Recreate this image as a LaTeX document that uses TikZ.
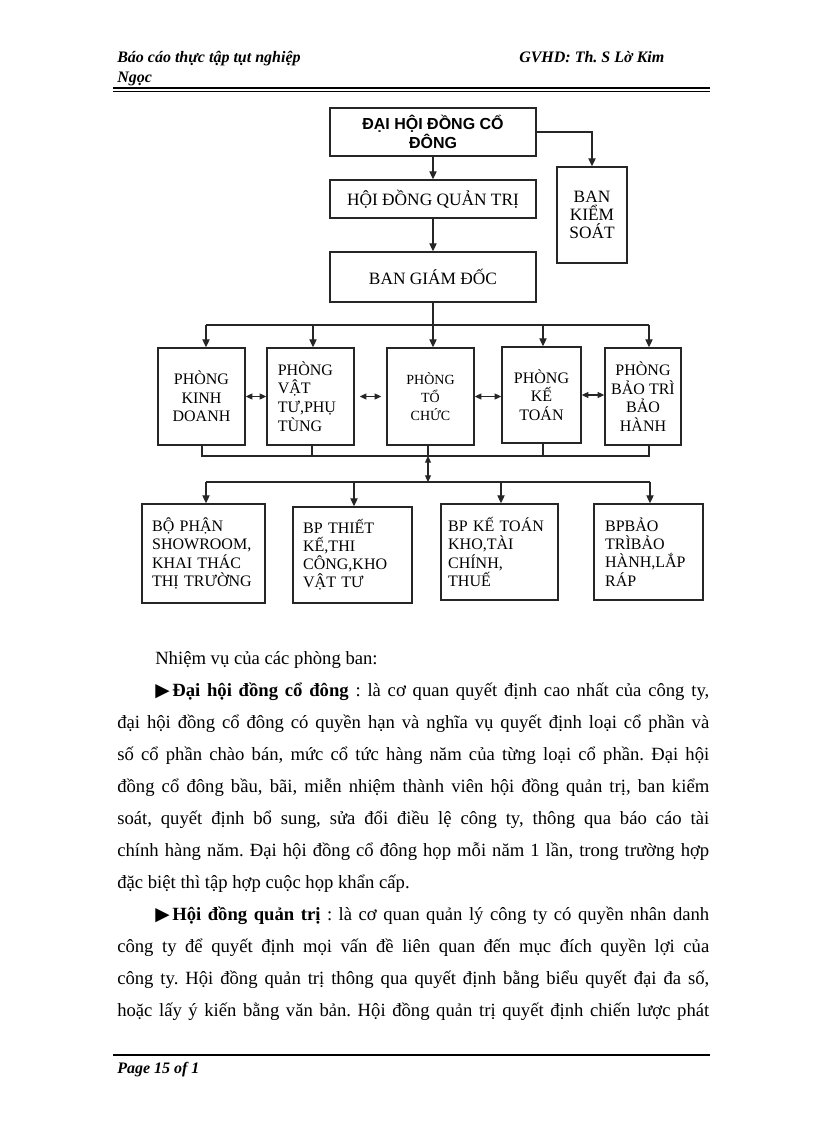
\documentclass[tikz,border=0pt]{standalone}
\usepackage{fontspec}
\setmainfont{Liberation Serif}
\newfontfamily\arialf{Liberation Sans}
\newfontfamily\symf{DejaVu Sans}
\usetikzlibrary{arrows.meta}
\frenchspacing
\newcommand\fullline[1]{\makebox[444pt][s]{#1}}
\newcommand\indline[1]{\makebox[415.5pt][s]{#1}}
\newcommand\tri{\raisebox{-0.3pt}{\symf\fontsize{14}{14}\selectfont ▶}\hspace{2pt}}
\begin{document}
\begin{tikzpicture}[x=0.75pt,y=-0.75pt,
  box/.style={draw=black!85, line width=1.1pt, inner sep=0pt, align=center},
  bx/.style 2 args={box, minimum width=#1*0.75pt, minimum height=#2*0.75pt},
  conn/.style={line width=0.8pt, black!85},
  arr/.style={conn, -{Triangle[length=6pt,width=5.5pt]}},
  darr/.style={conn, {Triangle[length=5pt,width=4.5pt]}-{Triangle[length=5pt,width=4.5pt]}},
  mid/.style={font=\fontsize{12}{14}\selectfont},
  low/.style={font=\fontsize{12}{13.6}\selectfont, align=left},
  body/.style={anchor=base west, inner sep=0pt, font=\fontsize{14}{16}\selectfont},
  hdr/.style={anchor=base west, inner sep=0pt, font=\fontsize{12}{14}\selectfont\bfseries\itshape},
]
\useasboundingbox (0,0) rectangle (816,1123);
\fill[white] (0,0) rectangle (816,1123);

% header
\node[hdr] (h1) at (117,63) {Báo cáo thực tập tụt nghiệp};
\node[hdr] (h2) at (117,83) {Ngọc};
\node[hdr] (h3) at (519,63) {GVHD: Th. S Lờ Kim};
\draw[line width=1.5pt] (113,88) -- (710,88);
\draw[line width=0.6pt] (113,91.5) -- (710,91.5);

% top boxes
\node[bx={206}{48}, font=\arialf\bfseries\fontsize{12}{14.3}\selectfont] (dhcd) at (433,132) {ĐẠI HỘI ĐỒNG CỔ\\ĐÔNG};
\node[bx={206}{38}, font=\fontsize{13}{15}\selectfont] (hdqt) at (433,199) {HỘI ĐỒNG QUẢN TRỊ};
\node[bx={206}{50}, font=\fontsize{13}{15}\selectfont] (bgd) at (433,277) {BAN GIÁM ĐỐC};
\node[bx={70}{96}, font=\fontsize{13}{13.5}\selectfont] (bks) at (592,215) {BAN\\KIỂM\\SOÁT};

\draw[arr] (dhcd) -- (hdqt);
\draw[arr] (hdqt) -- (bgd);
\draw[arr] (dhcd.east) -| (bks.north);

% middle row
\node[bx={87}{97}, mid] (pkd) at (201.5,396.5) {PHÒNG\\KINH\\DOANH};
\node[bx={87}{97}, mid, text width=49pt, align=left] (pvt) at (310.5,396.5) {PHÒNG\\VẬT\\TƯ,PHỤ\\TÙNG};
\node[bx={87}{97}, font=\fontsize{10.5}{13.5}\selectfont] (ptc) at (430.5,396.5) {PHÒNG\\TỔ\\CHỨC};
\node[bx={79}{96}, mid] (pkt) at (541.5,395) {PHÒNG\\KẾ\\TOÁN};
\node[bx={76}{97}, mid] (pbt) at (643,396.5) {PHÒNG\\BẢO TRÌ\\BẢO\\HÀNH};

\coordinate (ta) at (206,325);
\coordinate (tb) at (313,325);
\coordinate (td) at (543,325);
\coordinate (te) at (649,325);
\draw[conn] (ta) -- (te);
\draw[arr] (ta) -- (ta |- pkd.north);
\draw[arr] (tb) -- (tb |- pvt.north);
\draw[arr] (td) -- (td |- pkt.north);
\draw[arr] (te) -- (te |- pbt.north);
\draw[arr] (bgd.south) -- (bgd.south |- ptc.north);

\draw[darr] (pkd.east) -- (pvt.west);
\draw[darr] ([xshift=3.75pt]pvt.east) -- ([xshift=-3.75pt]ptc.west);
\draw[darr] (ptc.east) -- (ptc.east -| pkt.west);
\draw[darr] (pkt.east) -- (pkt.east -| pbt.west);

\coordinate (ba) at (202,456);
\coordinate (bb) at (312,456);
\coordinate (bc) at (428,456);
\coordinate (bd) at (543,456);
\coordinate (be) at (649,456);
\draw[conn] (ba |- pkd.south) -- (ba) -- (be) -- (be |- pbt.south);
\draw[conn] (bb |- pvt.south) -- (bb);
\draw[conn] (bc |- ptc.south) -- (bc);
\draw[conn] (bd |- pkt.south) -- (bd);

% bottom row
\node[bx={123}{99}, low, text width=77pt] (bp1) at (203.5,553.5) {BỘ PHẬN\\SHOWROOM,\\KHAI THÁC\\THỊ TRƯỜNG};
\node[bx={119}{96}, low, text width=74pt] (bp2) at (352.5,555) {BP THIẾT\\KẾ,THI\\CÔNG,KHO\\VẬT TƯ};
\node[bx={117}{96}, low, text width=77pt] (bp3) at (499.5,552) {BP KẾ TOÁN\\KHO,TÀI\\CHÍNH,\\THUẾ};
\node[bx={109}{96}, low, text width=65pt] (bp4) at (648.5,552) {BPBẢO\\TRÌBẢO\\HÀNH,LẮP\\RÁP};

\coordinate (ca) at (206,482);
\coordinate (cb) at (354,482);
\coordinate (cc) at (428,482);
\coordinate (cd) at (501,482);
\coordinate (ce) at (650,482);
\draw[darr] (bc) -- (cc);
\draw[conn] (ca) -- (ce);
\draw[arr] (ca) -- (ca |- bp1.north);
\draw[arr] (cb) -- (cb |- bp2.north);
\draw[arr] (cd) -- (cd |- bp3.north);
\draw[arr] (ce) -- (ce |- bp4.north);

% body text
\node[body] (t0) at (155,664) {Nhiệm vụ của các phòng ban:};
\node[body] (t1) at (155,696) {\indline{\tri\textbf{Đại hội đồng cổ đông} : là cơ quan quyết định cao nhất của công ty,}};
\node[body] (t2) at (117,728) {\fullline{đại hội đồng cổ đông có quyền hạn và nghĩa vụ quyết định loại cổ phần và}};
\node[body] (t3) at (117,760) {\fullline{số cổ phần chào bán, mức cổ tức hàng năm của từng loại cổ phần. Đại hội}};
\node[body] (t4) at (117,792) {\fullline{đồng cổ đông bầu, bãi, miễn nhiệm thành viên hội đồng quản trị, ban kiểm}};
\node[body] (t5) at (117,824) {\fullline{soát, quyết định bổ sung, sửa đổi điều lệ công ty, thông qua báo cáo tài}};
\node[body] (t6) at (117,856) {\fullline{chính hàng năm. Đại hội đồng cổ đông họp mỗi năm 1 lần, trong trường hợp}};
\node[body] (t7) at (117,888) {đặc biệt thì tập hợp cuộc họp khẩn cấp.};
\node[body] (t8) at (155,920) {\indline{\tri\textbf{Hội đồng quản trị} : là cơ quan quản lý công ty có quyền nhân danh}};
\node[body] (t9) at (117,952) {\fullline{công ty để quyết định mọi vấn đề liên quan đến mục đích quyền lợi của}};
\node[body] (t10) at (117,984) {\fullline{công ty. Hội đồng quản trị thông qua quyết định bằng biểu quyết đại đa số,}};
\node[body] (t11) at (117,1016) {\fullline{hoặc lấy ý kiến bằng văn bản. Hội đồng quản trị quyết định chiến lược phát}};

% footer
\draw[line width=1.5pt] (113,1055) -- (710,1055);
\node[hdr] (ft) at (117,1073) {Page 15 of 1};
\end{tikzpicture}
\end{document}
